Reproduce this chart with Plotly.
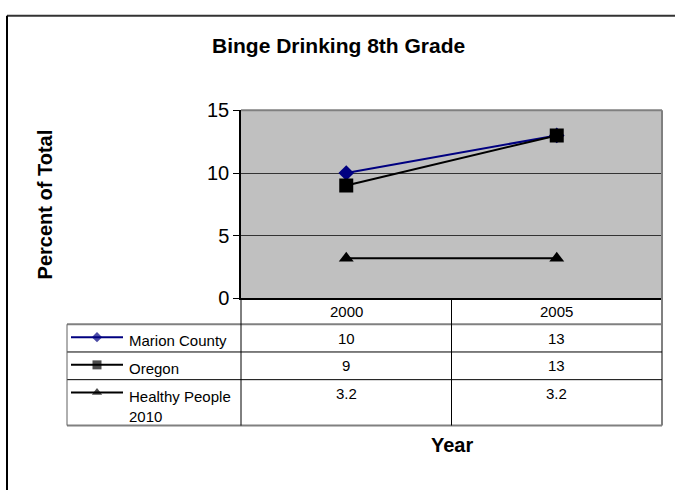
import plotly.graph_objects as go

# data
years = ["2000", "2005"]
series_names = ["Marion County", "Oregon", "Healthy People 2010"]
marion_county = [10, 13]
oregon = [9, 13]
healthy_people = [3.2, 3.2]

series_values = [marion_county, oregon, healthy_people]
series_colors = ["#000080", "#000000", "#000000"]
series_symbols = ["diamond", "square", "triangle-up"]
series_sizes = [12, 14, 13]
key_sizes = [8, 9, 9]

W, H = 675, 490
FONT = "Arial, Liberation Sans, sans-serif"


def px(x):
    return x / W


def py(y):
    return 1 - y / H


# geometry in pixels (plot area + data table under it)
L, R, T, B = 241, 662, 104, 301
MID = (L + R) / 2
table_left = 67
row_top = [328, 357, 386]
row_bottom = 434
row_h = 29
key_x0, key_x1 = 71, 123
label_x = 127

fig = go.Figure()

for name, vals, col, sym, sz in zip(series_names, series_values, series_colors,
                                     series_symbols, series_sizes):
    fig.add_trace(go.Scatter(
        x=years, y=vals, name=name, mode="lines+markers",
        line=dict(color=col, width=2),
        marker=dict(symbol=sym, size=sz, color=col, line=dict(width=0)),
        xaxis="x", yaxis="y", showlegend=False, hoverinfo="x+y+name"
    ))

# legend keys inside the data table (pixel axis covering whole canvas)
for i, (col, sym, ks) in enumerate(zip(series_colors, series_symbols, key_sizes)):
    yc = row_top[i] + row_h / 2 - 1
    fig.add_trace(go.Scatter(
        x=[key_x0, (key_x0 + key_x1) / 2, key_x1], y=[yc, yc, yc],
        mode="lines+markers", line=dict(color=col, width=2),
        marker=dict(symbol=sym, size=[0, ks, 0], color=col, line=dict(width=0)),
        xaxis="x2", yaxis="y2", showlegend=False, hoverinfo="skip"
    ))

shapes = []
# outer chart frame (runs off the right/bottom of the picture)
shapes.append(dict(type="line", xref="paper", yref="paper", x0=px(7), x1=px(W + 20),
                   y0=py(5), y1=py(5), line=dict(color="#333333", width=2)))
shapes.append(dict(type="line", xref="paper", yref="paper", x0=px(7), x1=px(7),
                   y0=py(5), y1=py(H + 20), line=dict(color="#000000", width=2)))
# plot area background
shapes.append(dict(type="rect", xref="paper", yref="paper", x0=px(L), x1=px(R),
                   y0=py(B), y1=py(T), fillcolor="#C0C0C0", line=dict(width=0),
                   layer="below"))
# grey top/right border of plot area
shapes.append(dict(type="line", xref="paper", yref="paper", x0=px(L), x1=px(R),
                   y0=py(T), y1=py(T), line=dict(color="#808080", width=2)))
shapes.append(dict(type="line", xref="paper", yref="paper", x0=px(R), x1=px(R),
                   y0=py(T), y1=py(row_bottom), line=dict(color="#808080", width=2)))

# data table lines
shapes.append(dict(type="line", xref="paper", yref="paper", x0=px(table_left), x1=px(R),
                   y0=py(row_top[0]), y1=py(row_top[0]), line=dict(color="#808080", width=2)))
for yy in row_top[1:]:
    shapes.append(dict(type="line", xref="paper", yref="paper", x0=px(table_left), x1=px(R),
                       y0=py(yy), y1=py(yy), line=dict(color="#000000", width=1)))
shapes.append(dict(type="line", xref="paper", yref="paper", x0=px(table_left), x1=px(R),
                   y0=py(row_bottom), y1=py(row_bottom), line=dict(color="#808080", width=2)))
shapes.append(dict(type="line", xref="paper", yref="paper", x0=px(table_left), x1=px(table_left),
                   y0=py(row_top[0]), y1=py(row_bottom), line=dict(color="#606060", width=1)))
for xx in [L, MID]:
    shapes.append(dict(type="line", xref="paper", yref="paper", x0=px(xx), x1=px(xx),
                       y0=py(B), y1=py(row_bottom), line=dict(color="#000000", width=1)))

annotations = []
col_centers = [L + (R - L) * (i + 0.5) / len(years) for i in range(len(years))]
# header row with the years
for xc, yr in zip(col_centers, years):
    annotations.append(dict(x=px(xc), y=py((B + row_top[0]) / 2), text=yr, showarrow=False,
                            xref="paper", yref="paper", xanchor="center", yanchor="middle",
                            font=dict(family=FONT, size=15, color="black")))
# series rows
for i, (name, vals) in enumerate(zip(series_names, series_values)):
    yc = row_top[i] + row_h / 2
    label = name if i < 2 else "Healthy People<br>2010"
    annotations.append(dict(x=px(label_x), y=py(yc - 8), text=label, showarrow=False,
                            xref="paper", yref="paper", xanchor="left", yanchor="top",
                            align="left",
                            font=dict(family=FONT, size=15, color="black")))
    for xc, v in zip(col_centers, vals):
        annotations.append(dict(x=px(xc), y=py(yc), text=str(v), showarrow=False,
                                xref="paper", yref="paper", xanchor="center", yanchor="middle",
                                font=dict(family=FONT, size=15, color="black")))

# titles
annotations.append(dict(x=px(338), y=py(36), text="<b>Binge Drinking 8th Grade</b>",
                        showarrow=False, xref="paper", yref="paper",
                        xanchor="center", yanchor="middle",
                        font=dict(family=FONT, size=21, color="black")))
annotations.append(dict(x=px(45), y=py((T + B) / 2), text="<b>Percent of Total</b>",
                        textangle=-90, showarrow=False, xref="paper", yref="paper",
                        xanchor="center", yanchor="middle",
                        font=dict(family=FONT, size=20, color="black")))
annotations.append(dict(x=px(MID), y=py(454), text="<b>Year</b>",
                        showarrow=False, xref="paper", yref="paper",
                        xanchor="center", yanchor="middle",
                        font=dict(family=FONT, size=20, color="black")))

fig.update_layout(
    width=W, height=H,
    margin=dict(l=0, r=0, t=0, b=0),
    paper_bgcolor="white",
    plot_bgcolor="rgba(0,0,0,0)",
    showlegend=False,
    xaxis=dict(domain=[px(L), px(R)], anchor="y", type="category",
               categoryarray=years, range=[-0.5, len(years) - 0.5],
               showticklabels=False, ticks="", showgrid=False, zeroline=False,
               showline=True, linecolor="black", linewidth=1.5, fixedrange=True),
    yaxis=dict(domain=[py(B), py(T)], anchor="x", range=[0, 15], dtick=5,
               showgrid=True, gridcolor="#333333", gridwidth=1, zeroline=False,
               showline=True, linecolor="black", linewidth=1.5,
               ticks="outside", ticklen=6, tickcolor="black", tickwidth=1,
               tickfont=dict(family=FONT, size=20, color="black"), fixedrange=True),
    xaxis2=dict(domain=[0, 1], anchor="y2", range=[0, W], visible=False, fixedrange=True),
    yaxis2=dict(domain=[0, 1], anchor="x2", range=[H, 0], visible=False, fixedrange=True),
    shapes=shapes,
    annotations=annotations,
)

# page body has a default 8px margin; remove it so the figure fills the window
fig.write_html("out.html", config={"displayModeBar": False},
               post_script="document.body.style.margin='0';")
